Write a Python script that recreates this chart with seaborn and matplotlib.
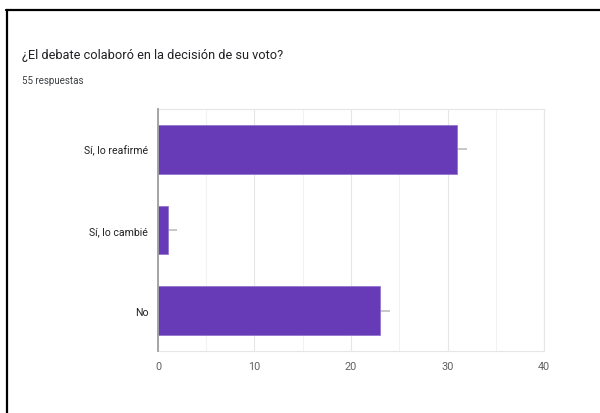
import matplotlib
matplotlib.use("Agg")
import matplotlib.pyplot as plt
import matplotlib.lines as mlines
import numpy as np
import pandas as pd
import seaborn as sns

# Survey answers and response counts
answers = ["Sí, lo reafirmé", "Sí, lo cambié", "No"]
counts = [31, 1, 23]
x_ticks = [0, 10, 20, 30, 40]
title = "¿El debate colaboró en la decisión de su voto?"
subtitle = "55 respuestas"

sns.set_theme(style="white")
plt.rcParams["font.family"] = ["Roboto", "DejaVu Sans"]

df = pd.DataFrame({"respuesta": answers, "cantidad": counts})

fig = plt.figure(figsize=(6, 4.14), dpi=100)
W, H = 600, 414

# Black frame along the top and left edges
fig.add_artist(mlines.Line2D([6 / W, 1], [1 - 11 / H, 1 - 11 / H], color="black", lw=1.6))
fig.add_artist(mlines.Line2D([7 / W, 7 / W], [0, 1 - 11 / H], color="black", lw=1.6))

fig.text(22 / W, 1 - 55 / H, title, fontsize=9.2, color="#202124", va="center", ha="left")
fig.text(22 / W, 1 - 81 / H, subtitle, fontsize=7, color="#3c4043", va="center", ha="left")

ax = fig.add_axes([158 / W, 1 - 352 / H, 386 / W, 242 / H])
sns.barplot(data=df, x="cantidad", y="respuesta", orient="h", color="#673ab7",
            saturation=1, width=0.6, edgecolor="#9575cd", linewidth=0.6, ax=ax, zorder=3)

# Short grey stubs to the right of each bar end
ypos = np.arange(len(counts))
ax.hlines(ypos, np.array(counts), np.array(counts) + 1.0, color="#bdbdbd", lw=1.2, zorder=2)

ax.set_ylim(len(answers) - 0.5, -0.5)
ax.set_xlim(0, 40)
ax.set_xticks(x_ticks)
ax.set_xticks([5, 15, 25, 35], minor=True)
ax.grid(axis="x", which="major", color="#e6e6e6", lw=0.8, zorder=0)
ax.grid(axis="x", which="minor", color="#f2f2f2", lw=0.8, zorder=0)
ax.set_axisbelow(True)
ax.set_xlabel("")
ax.set_ylabel("")

for name, sp in ax.spines.items():
    sp.set_color("#e6e6e6")
    sp.set_linewidth(0.8)
ax.spines["left"].set_color("#9e9e9e")
ax.spines["left"].set_linewidth(1.3)
ax.spines["left"].set_zorder(4)

ax.tick_params(axis="both", which="both", length=0)
ax.tick_params(axis="x", pad=7, labelsize=7.8, labelcolor="#616161")
ax.tick_params(axis="y", pad=7, labelsize=7.6, labelcolor="#212121")

fig.savefig("out.png", dpi=100)
